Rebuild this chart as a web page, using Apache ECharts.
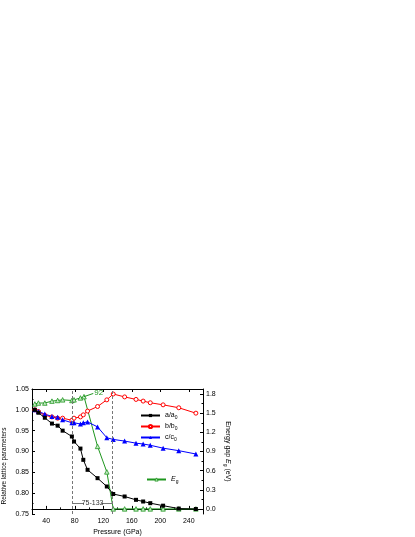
<!DOCTYPE html>
<html>
<head>
<meta charset="utf-8">
<script src="https://cdn.jsdelivr.net/npm/echarts@6/dist/echarts.min.js"></script>
<style>
  html, body { margin: 0; padding: 0; background: #fff; }
  #chart { width: 415px; height: 537px; }
</style>
</head>
<body>
<div id="chart"></div>
<script>
// lattice ratios vs pressure
var pressure = [24, 29, 38, 48, 56, 63, 76, 79, 88, 92, 98, 112, 125, 134, 150, 166, 176, 186, 204, 226, 250];
var aRatio = [1.000, 0.993, 0.981, 0.967, 0.962, 0.950, 0.936, 0.924, 0.907, 0.880, 0.856, 0.836, 0.816, 0.798, 0.792, 0.784, 0.780, 0.776, 0.770, 0.763, 0.762];
var bRatio = [1.000, 0.996, 0.987, 0.983, 0.980, 0.980, 0.975, 0.980, 0.983, 0.988, 0.997, 1.008, 1.024, 1.038, 1.031, 1.025, 1.021, 1.017, 1.012, 1.005, 0.992];
var cRatio = [1.000, 0.996, 0.990, 0.984, 0.982, 0.976, 0.969, 0.969, 0.966, 0.969, 0.971, 0.959, 0.933, 0.929, 0.925, 0.920, 0.918, 0.915, 0.908, 0.902, 0.894];

// energy gap
var gapPressure = [24, 29, 38, 48, 56, 63, 76, 79, 88, 93, 112, 125, 134, 150, 166, 176, 186, 204, 226, 250];
var gapValue = [1.645, 1.66, 1.66, 1.69, 1.70, 1.71, 1.70, 1.71, 1.74, 1.76, 0.98, 0.58, 0.0, 0.0, 0.0, 0.0, 0.0, 0.0, 0.0, 0.0];

var xLabels = [40, 80, 120, 160, 200, 240];
var xMinor = [20, 60, 100, 140, 180, 220, 260];
var gapTicks = [0.0, 0.3, 0.6, 0.9, 1.2, 1.5, 1.8];
var gapMinor = [0.15, 0.45, 0.75, 1.05, 1.35, 1.65];
var transition = [77, 133];

function pairs(xs, ys) {
    return xs.map(function (x, i) { return [x, ys[i]]; });
}

var FONT = 'Liberation Sans';
var GREEN = '#1e961e';
var chart = echarts.init(document.getElementById('chart'));

var sub = {
    n: { fontSize: 7, fontFamily: FONT, color: '#000' },
    s: { fontSize: 5, fontFamily: FONT, color: '#000', padding: [4, 0, 0, 0] },
    i: { fontSize: 7, fontFamily: FONT, color: '#000', fontStyle: 'italic' }
};

option = {
    backgroundColor: '#fff',
    animation: false,
    grid: { left: 30, top: 389, width: 173, height: 126 },
    legend: [{
        orient: 'vertical',
        left: 135,
        top: 407,
        itemGap: 3,
        itemWidth: 19,
        itemHeight: 4,
        data: ['a/a0', 'b/b0', 'c/c0'],
        formatter: function (name) {
            return '{n|' + name.slice(0, 3) + '}{s|0}';
        },
        textStyle: { rich: sub }
    }, {
        left: 141,
        top: 471,
        itemWidth: 19,
        itemHeight: 4,
        data: [{ name: 'Eg', itemStyle: { color: '#c8ecc8', borderColor: GREEN, borderWidth: 0.8 } }],
        formatter: function () { return '{i|E}{s|g}'; },
        textStyle: { rich: sub }
    }],
    xAxis: [{
        type: 'value',
        min: 20, max: 260, interval: 20,
        name: 'Pressure (GPa)',
        nameLocation: 'middle',
        nameGap: 15,
        nameTextStyle: { fontSize: 7, fontFamily: FONT, color: '#000' },
        axisLine: { lineStyle: { color: '#000', width: 1 } },
        axisTick: { inside: true, length: 3, customValues: xLabels, lineStyle: { color: '#000' } },
        axisLabel: { customValues: xLabels, fontSize: 7, fontFamily: FONT, color: '#000', margin: 4 },
        splitLine: { show: false }
    }, {
        type: 'value',
        min: 20, max: 260, interval: 20,
        position: 'bottom',
        axisLine: { show: false },
        axisTick: { inside: true, length: 1.5, customValues: xMinor, lineStyle: { color: '#000' } },
        axisLabel: { show: false },
        splitLine: { show: false }
    }, {
        type: 'value',
        min: 20, max: 260, interval: 20,
        position: 'top',
        axisLine: { lineStyle: { color: '#000', width: 1 } },
        axisTick: { inside: true, length: 3, customValues: xLabels, lineStyle: { color: '#000' } },
        axisLabel: { show: false },
        splitLine: { show: false }
    }],
    yAxis: [{
        type: 'value',
        min: 0.75, max: 1.05, interval: 0.05,
        name: 'Relative lattice parameters',
        nameLocation: 'middle',
        nameGap: 24,
        nameTextStyle: { fontSize: 6.5, fontFamily: FONT, color: '#000', padding: [0, 29, 0, 0] },
        axisLine: { lineStyle: { color: '#000', width: 1 } },
        axisTick: { inside: true, length: 3, lineStyle: { color: '#000' } },
        minorTick: { show: true, splitNumber: 2, length: 1.5, lineStyle: { color: '#000' } },
        axisLabel: {
            fontSize: 7, fontFamily: FONT, color: '#000', margin: 3,
            formatter: function (v) { return v.toFixed(2); }
        },
        splitLine: { show: false }
    }, {
        type: 'value',
        min: -0.08, max: 1.88,
        position: 'right',
        name: '{n|Energy gap }{i|E}{s|g}{n| (eV)}',
        nameLocation: 'middle',
        nameRotate: -90,
        nameGap: 20,
        nameTextStyle: { rich: sub },
        axisLine: { lineStyle: { color: '#000', width: 1 } },
        axisTick: { inside: true, length: 3, customValues: gapTicks, lineStyle: { color: '#000' } },
        axisLabel: {
            customValues: gapTicks, fontSize: 7, fontFamily: FONT, color: '#000', margin: 3,
            formatter: function (v) { return v.toFixed(1); }
        },
        splitLine: { show: false }
    }, {
        type: 'value',
        min: -0.08, max: 1.88,
        position: 'right',
        axisLine: { show: false },
        axisTick: { inside: true, length: 1.5, customValues: gapMinor, lineStyle: { color: '#000' } },
        axisLabel: { show: false },
        splitLine: { show: false }
    }],
    series: [{
        name: 'a/a0',
        type: 'line',
        data: pairs(pressure, aRatio),
        symbol: 'rect',
        symbolSize: 4,
        itemStyle: { color: '#000' },
        lineStyle: { color: '#000', width: 1 },
        z: 5,
        markLine: {
            silent: true,
            symbol: ['none', 'none'],
            lineStyle: { color: '#777', type: [3, 2], width: 1 },
            label: { show: false },
            data: [
                { xAxis: transition[0] },
                { xAxis: transition[1] },
                [{ coord: [transition[0], 0.777], lineStyle: { type: 'solid', color: '#777' } },
                 { coord: [93, 0.777] }],
                [{ coord: [117, 0.777], lineStyle: { type: 'solid', color: '#777' } },
                 { coord: [transition[1], 0.777] }]
            ]
        },
        markPoint: {
            silent: true,
            symbol: 'circle',
            symbolSize: 0,
            data: [{
                coord: [105, 0.777],
                label: {
                    show: true, position: 'inside', formatter: '75-133',
                    fontSize: 7, fontFamily: FONT, color: '#333'
                }
            }]
        }
    }, {
        name: 'b/b0',
        type: 'line',
        data: pairs(pressure, bRatio),
        symbol: 'circle',
        symbolSize: 4,
        itemStyle: { color: '#fff', borderColor: '#ff0000', borderWidth: 1 },
        lineStyle: { color: '#ff0000', width: 1 },
        z: 4
    }, {
        name: 'c/c0',
        type: 'line',
        data: pairs(pressure, cRatio),
        symbol: 'triangle',
        symbolSize: 5,
        itemStyle: { color: '#0000ff' },
        lineStyle: { color: '#0000ff', width: 1 },
        z: 4
    }, {
        name: 'Eg',
        type: 'line',
        yAxisIndex: 1,
        data: pairs(gapPressure, gapValue),
        symbol: 'triangle',
        symbolSize: 4.5,
        itemStyle: { color: '#c8ecc8', borderColor: GREEN, borderWidth: 0.8 },
        lineStyle: { color: GREEN, width: 1 },
        z: 3,
        markLine: {
            silent: true,
            symbol: ['none', 'none'],
            lineStyle: { color: GREEN, type: 'solid', width: 1 },
            data: [[{
                coord: [gapPressure[9], gapValue[9]],
                label: {
                    show: true, position: 'end', formatter: '92', distance: 1,
                    fontSize: 8, fontFamily: FONT, color: GREEN
                }
            }, { coord: [106, 1.81] }]]
        }
    }]
};

chart.setOption(option);
</script>
</body>
</html>
